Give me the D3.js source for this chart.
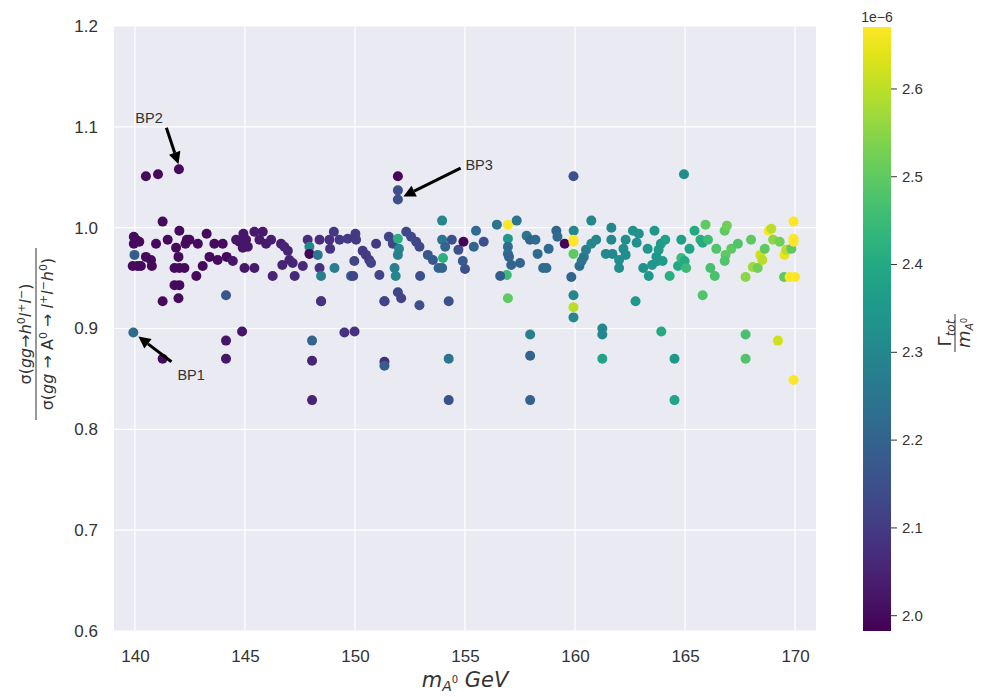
<!DOCTYPE html>
<html>
<head>
<meta charset="utf-8">
<script src="https://cdn.jsdelivr.net/npm/d3@7"></script>
<style>
  body { margin: 0; background: #fff; }
  text { font-family: "Liberation Sans", Arial, sans-serif; }
  .math { font-family: "DejaVu Sans", sans-serif; font-style: italic; }
</style>
</head>
<body>
<div id="canvas"></div>
<script>
// m_A0 (GeV), cross-section ratio, Gamma_tot/m_A0 (x1e-6)
const massVals = [
  139.95,140.05,139.95,140.2,139.98,139.9,140.12,140.27,140.5,140.73,140.77,140.96,141.26,141.49,141.87,142.02,141.98,141.8,142.02,142.25,
  142.36,142.3,142.48,142.86,142.79,143.08,143.26,143.39,143.61,143.76,143.99,144.17,144.14,141.26,141.98,141.8,142.02,144.45,144.6,144.93,
  144.75,144.9,145.05,145.13,144.98,145.43,145.43,145.81,145.66,145.96,146.19,146.26,146.64,146.79,146.95,147.02,147.17,146.7,147.26,147.63,
  147.85,147.93,147.93,148.39,148.31,148.39,148.46,148.46,148.84,148.87,149.04,149.07,149.3,149.67,149.82,149.92,150.02,150.05,149.97,150.35,
  150.5,150.65,150.73,150.96,151.11,151.34,151.54,151.72,151.95,152.0,151.95,151.8,151.85,151.95,152.1,151.95,151.95,151.95,152.33,152.55,
  152.78,152.93,152.96,152.93,153.31,153.54,153.8,140.5,141.05,142.0,
  153.96,153.96,154.1,154.0,153.96,154.4,154.7,154.93,154.9,155.0,155.4,155.5,155.85,156.45,156.95,157.35,156.95,156.95,156.95,157.0,
  157.1,156.9,156.6,156.95,157.5,157.8,157.95,158.2,158.3,158.55,158.7,158.8,159.15,159.2,159.53,159.94,159.93,159.93,159.93,159.83,
  159.93,159.93,159.93,160.2,160.3,160.4,160.5,160.74,160.96,160.74,161.65,161.65,161.4,161.7,162.0,162.0,162.2,162.3,162.3,162.63,
  162.8,162.9,163.1,163.3,163.35,163.5,163.61,163.7,163.75,163.8,163.9,163.98,164.1,164.3,164.68,164.83,164.83,164.98,165.05,165.2,
  165.43,165.7,165.8,166.04,165.93,166.15,166.35,165.8,166.42,166.8,166.9,166.84,166.8,167.1,167.4,168.0,167.75,168.08,168.3,168.42,
  168.51,168.62,168.8,168.92,169.0,169.3,169.52,169.6,169.83,169.93,169.93,169.93,169.5,169.75,170.0,159.93,164.95,
  139.93,141.26,144.14,144.14,144.87,148.05,148.05,148.05,149.52,149.98,151.34,151.34,154.26,154.26,154.26,157.96,157.96,157.96,161.24,161.24,
  161.24,163.92,164.52,164.52,167.75,167.75,169.22,169.93,162.75,148.46,151.34
];
const ratioVals = [
  0.991,0.988,0.984,0.986,0.973,0.962,0.962,0.962,0.971,0.968,0.962,0.984,1.006,0.988,0.980,0.997,0.971,0.960,0.960,0.960,
  0.988,0.984,0.988,0.984,0.952,0.962,0.994,0.971,0.984,0.968,0.984,0.971,0.933,0.927,0.930,0.943,0.943,0.967,0.988,0.994,
  0.986,0.980,0.988,0.981,0.960,0.960,0.996,0.996,0.988,0.984,0.988,0.952,0.984,0.981,0.977,0.968,0.965,0.963,0.952,0.962,
  0.988,0.981,0.974,0.988,0.973,0.960,0.952,0.927,0.988,0.979,0.996,0.960,0.988,0.989,0.952,0.952,0.994,0.988,0.967,0.977,
  0.973,0.968,0.965,0.984,0.953,0.927,0.991,0.984,0.989,0.979,0.973,0.960,0.952,0.936,0.930,1.051,1.037,1.028,0.996,0.991,
  0.986,0.981,0.952,0.923,0.973,0.968,0.960,1.051,1.053,1.058,
  1.007,0.988,0.981,0.970,0.960,0.988,0.978,0.986,0.967,0.959,0.981,0.997,0.986,1.003,1.003,1.007,0.989,0.981,0.974,0.971,
  0.963,0.953,0.952,0.930,0.965,0.992,0.988,0.988,0.974,0.960,0.960,0.979,0.997,0.991,0.984,0.997,0.988,0.986,0.974,0.951,
  0.933,0.921,0.911,0.962,0.967,0.971,0.978,0.984,0.988,1.007,1.000,0.988,0.974,0.974,0.968,0.960,0.979,0.988,0.973,0.997,
  0.985,0.994,0.960,0.979,0.952,0.963,0.997,0.971,0.967,0.978,0.984,0.967,0.988,0.952,0.962,0.988,0.970,0.967,0.960,0.979,
  0.997,0.988,0.985,0.988,1.003,0.960,0.952,0.933,0.979,0.997,1.002,0.973,0.967,0.979,0.984,0.988,0.951,0.961,0.960,0.973,
  0.968,0.979,0.997,0.999,0.988,0.986,0.973,0.978,0.979,1.006,0.989,0.986,0.951,0.951,0.951,1.051,1.053,
  0.896,0.870,0.888,0.870,0.897,0.888,0.868,0.829,0.896,0.897,0.867,0.863,0.870,0.829,0.927,0.894,0.873,0.829,0.900,0.894,
  0.870,0.897,0.870,0.829,0.894,0.870,0.888,0.849,0.927,0.927,0.927
];
const widthVals = [
  2.0,2.0,2.0,2.0,2.18,2.0,2.0,2.0,2.0,2.0,2.0,2.0,2.0,2.0,2.0,2.0,2.0,2.0,2.0,2.0,
  2.0,2.0,2.0,2.0,2.0,2.0,2.0,2.0,2.0,2.0,2.0,2.0,2.17,2.0,2.0,2.0,2.0,2.02,2.02,2.02,
  2.02,2.02,2.02,2.02,2.02,2.03,2.03,2.03,2.03,2.03,2.04,2.05,2.04,2.05,2.05,2.05,2.05,2.05,2.06,2.06,
  2.07,2.3,1.99,2.07,2.25,2.08,2.27,2.08,2.08,2.08,2.09,2.27,2.09,2.1,2.2,2.12,2.1,2.1,2.12,2.1,
  2.1,2.1,2.12,2.1,2.12,2.12,2.12,2.12,2.42,2.3,2.28,2.28,2.3,2.12,2.12,1.99,2.15,2.15,2.13,2.13,
  2.13,2.13,2.15,2.15,2.17,2.17,2.2,2.0,2.0,2.0,
  2.3,2.25,2.2,2.42,2.2,2.15,2.15,1.99,2.18,2.15,2.2,2.22,2.15,2.25,2.67,2.25,2.35,2.22,2.22,2.2,
  2.2,2.45,2.18,2.5,2.2,2.25,2.2,2.22,2.22,2.22,2.22,2.22,2.2,2.22,1.99,2.3,2.67,2.67,2.5,2.2,
  2.3,2.6,2.3,2.22,2.25,2.25,2.27,2.3,2.3,2.3,2.3,2.3,2.3,2.3,2.32,2.32,2.32,2.32,2.32,2.33,
  2.33,2.33,2.33,2.35,2.35,2.35,2.35,2.35,2.35,2.36,2.36,2.36,2.37,2.42,2.4,2.37,2.45,2.4,2.45,2.38,
  2.4,2.42,2.4,2.45,2.5,2.47,2.47,2.48,2.48,2.5,2.52,2.5,2.48,2.5,2.48,2.5,2.55,2.57,2.52,2.62,
  2.6,2.5,2.67,2.6,2.55,2.52,2.65,2.6,2.5,2.67,2.67,2.67,2.5,2.67,2.67,2.15,2.32,
  2.22,2.0,2.02,2.02,2.02,2.2,2.05,2.05,2.08,2.08,2.07,2.18,2.25,2.15,2.15,2.28,2.2,2.2,2.3,2.3,
  2.38,2.4,2.35,2.38,2.47,2.48,2.62,2.67,2.35,2.08,2.12
];

const xTicks = [140, 145, 150, 155, 160, 165, 170];
const yTicks = [0.6, 0.7, 0.8, 0.9, 1.0, 1.1, 1.2];
const cTicks = [2.0, 2.1, 2.2, 2.3, 2.4, 2.5, 2.6];

// annotation: label, point, arrow tail, text anchor (data coords)
const notes = [
  { label: "BP1", tip: [140.16, 0.892], tail: [141.66, 0.867], text: [141.93, 0.849] },
  { label: "BP2", tip: [141.98, 1.063], tail: [141.43, 1.099], text: [140.02, 1.104] },
  { label: "BP3", tip: [152.2, 1.031], tail: [154.8, 1.059], text: [155.02, 1.057] }
];

const W = 983, H = 697;
const plot = { left: 114, right: 816, top: 26, bottom: 631 };

const svg = d3.select("#canvas").append("svg")
  .attr("width", W)
  .attr("height", H);

const x = d3.scaleLinear().domain([139.05, 170.95]).range([plot.left, plot.right]);
const y = d3.scaleLinear().domain([0.6, 1.2]).range([plot.bottom, plot.top]);
const c = d3.scaleSequential(d3.interpolateViridis).domain([1.982, 2.670]);

// background + grid (seaborn darkgrid)
svg.append("rect")
  .attr("x", plot.left).attr("y", plot.top)
  .attr("width", plot.right - plot.left).attr("height", plot.bottom - plot.top)
  .attr("fill", "#eaeaf2");

const grid = svg.append("g").attr("stroke", "#fff").attr("stroke-width", 1.2);
grid.selectAll(".gx").data(xTicks).enter().append("line")
  .attr("x1", d => x(d)).attr("x2", d => x(d))
  .attr("y1", plot.top).attr("y2", plot.bottom);
grid.selectAll(".gy").data(yTicks).enter().append("line")
  .attr("x1", plot.left).attr("x2", plot.right)
  .attr("y1", d => y(d)).attr("y2", d => y(d));

// axes (labels only, no spines)
const xAxis = svg.append("g")
  .attr("transform", `translate(0,${plot.bottom})`)
  .call(d3.axisBottom(x).tickValues(xTicks).tickSize(0).tickPadding(19).tickFormat(d3.format("d")));
const yAxis = svg.append("g")
  .attr("transform", `translate(${plot.left},0)`)
  .call(d3.axisLeft(y).tickValues(yTicks).tickSize(0).tickPadding(16).tickFormat(d3.format(".1f")));
[xAxis, yAxis].forEach(a => {
  a.select(".domain").remove();
  a.selectAll("text").attr("font-size", 17).attr("fill", "#333")
    .attr("font-family", "Liberation Sans, Arial, sans-serif");
});

// points
const pts = massVals.map((m, i) => ({ m: m, r: ratioVals[i], w: widthVals[i] }));
svg.append("g").selectAll("circle")
  .data(pts)
  .enter().append("circle")
  .attr("cx", d => x(d.m))
  .attr("cy", d => y(d.r))
  .attr("r", 5)
  .attr("fill", d => c(d.w));

// annotations
const ann = svg.append("g");
notes.forEach(n => {
  const tx = x(n.tail[0]), ty = y(n.tail[1]);
  const hx = x(n.tip[0]), hy = y(n.tip[1]);
  const ang = Math.atan2(hy - ty, hx - tx);
  const hl = 12, hw = 6;
  const bx = hx - hl * Math.cos(ang), by = hy - hl * Math.sin(ang);
  ann.append("line")
    .attr("x1", tx).attr("y1", ty).attr("x2", bx).attr("y2", by)
    .attr("stroke", "#000").attr("stroke-width", 3);
  ann.append("path")
    .attr("d", `M${hx},${hy}L${bx + hw * Math.sin(ang)},${by - hw * Math.cos(ang)}L${bx - hw * Math.sin(ang)},${by + hw * Math.cos(ang)}Z`)
    .attr("fill", "#000");
  ann.append("text")
    .attr("x", x(n.text[0])).attr("y", y(n.text[1]))
    .attr("font-size", 14.5).attr("fill", "#333")
    .text(n.label);
});

// x label
const xl = svg.append("text").attr("class", "math")
  .attr("x", 465).attr("y", 687).attr("text-anchor", "middle")
  .attr("font-size", 21).attr("fill", "#333");
xl.append("tspan").text("m");
xl.append("tspan").attr("font-size", 14).attr("dy", 4).text("A");
xl.append("tspan").attr("font-size", 10).attr("dy", -8).attr("font-style", "normal").text("0");
xl.append("tspan").attr("dy", 4).text(" GeV");

// y label (fraction)
const yl = svg.append("g").attr("transform", "translate(0,334) rotate(-90)")
  .attr("fill", "#333");
function frac(parent, yPos, parts, size) {
  const t = parent.append("text").attr("class", "math")
    .attr("x", 0).attr("y", yPos).attr("text-anchor", "middle")
    .attr("font-size", size);
  let shift = 0;
  parts.forEach(p => {
    const target = p[1];
    t.append("tspan").attr("dy", target - shift)
      .attr("font-size", p[2] || size)
      .attr("font-style", p[3] || "italic")
      .text(p[0]);
    shift = target;
  });
  return t;
}
frac(yl, 31, [["σ(", 0, 0, "normal"], ["gg", 0], ["→", 0, 0, "normal"], ["h", 0], ["0", -6, 11, "normal"], ["l", 0], ["+", -6, 11, "normal"], ["l", 0], ["−", -6, 11, "normal"], [")", 0, 0, "normal"]], 16);
yl.append("line").attr("x1", -86).attr("x2", 86).attr("y1", 36).attr("y2", 36)
  .attr("stroke", "#333").attr("stroke-width", 1);
frac(yl, 53, [["σ(", 0, 0, "normal"], ["gg", 0], [" → A", 0, 0, "normal"], ["0", -6, 11, "normal"], [" → ", 0, 0, "normal"], ["l", 0], ["+", -6, 11, "normal"], ["l", 0], ["−", -6, 11, "normal"], ["h", 0], ["0", -6, 11, "normal"], [")", 0, 0, "normal"]], 16);

// colorbar
const cb = { left: 863, right: 891, top: 27, bottom: 631 };
const cy = d3.scaleLinear().domain(c.domain()).range([cb.bottom, cb.top]);
const grad = svg.append("defs").append("linearGradient")
  .attr("id", "vir").attr("x1", 0).attr("x2", 0).attr("y1", 1).attr("y2", 0);
d3.range(0, 1.0001, 0.05).forEach(t => {
  grad.append("stop").attr("offset", t).attr("stop-color", d3.interpolateViridis(t));
});
svg.append("rect")
  .attr("x", cb.left).attr("y", cb.top)
  .attr("width", cb.right - cb.left).attr("height", cb.bottom - cb.top)
  .attr("fill", "url(#vir)");
const cAxis = svg.append("g")
  .attr("transform", `translate(${cb.right},0)`)
  .call(d3.axisRight(cy).tickValues(cTicks).tickSize(6).tickPadding(5).tickFormat(d3.format(".1f")));
cAxis.select(".domain").remove();
cAxis.selectAll("line").attr("stroke", "#333").attr("stroke-width", 1);
cAxis.selectAll("text").attr("font-size", 15).attr("fill", "#333")
  .attr("font-family", "Liberation Sans, Arial, sans-serif");
svg.append("text")
  .attr("x", 877).attr("y", 22).attr("text-anchor", "middle")
  .attr("font-size", 14).attr("fill", "#333").text("1e\u22126");

// colorbar label
const cl = svg.append("g").attr("transform", "translate(0,333) rotate(-90)").attr("fill", "#333");
const cn = cl.append("text").attr("class", "math").attr("x", 0).attr("y", 951)
  .attr("text-anchor", "middle").attr("font-size", 18);
cn.append("tspan").attr("font-style", "normal").text("Γ");
cn.append("tspan").attr("font-size", 12).attr("dy", 4).text("tot");
cl.append("line").attr("x1", -19).attr("x2", 19).attr("y1", 955).attr("y2", 955)
  .attr("stroke", "#333").attr("stroke-width", 1);
const cd = cl.append("text").attr("class", "math").attr("x", 0).attr("y", 970)
  .attr("text-anchor", "middle").attr("font-size", 18);
cd.append("tspan").text("m");
cd.append("tspan").attr("font-size", 11).attr("dy", 3).text("A");
cd.append("tspan").attr("font-size", 8).attr("dy", -6).attr("font-style", "normal").text("0");
</script>
</body>
</html>
